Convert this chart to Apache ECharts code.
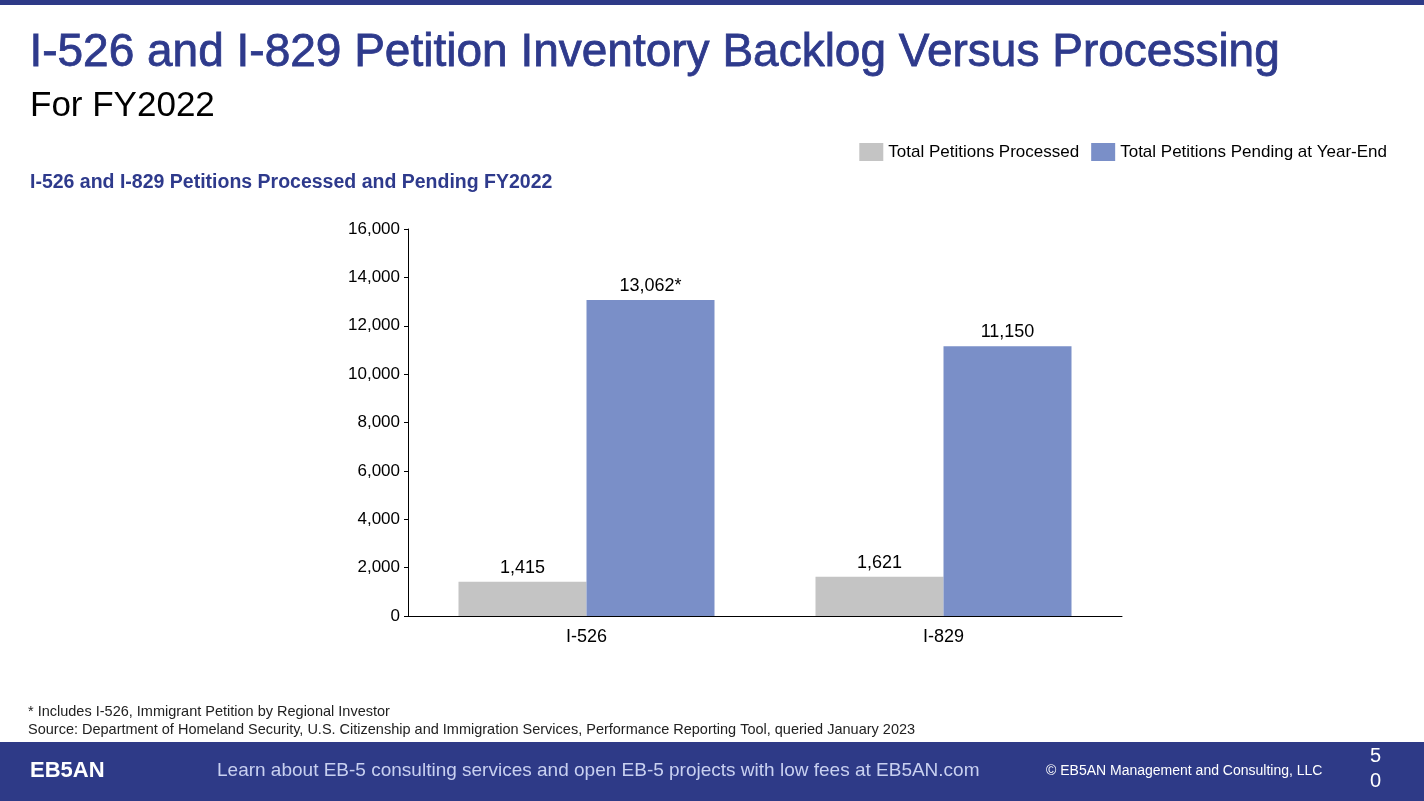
<!DOCTYPE html><html><head><meta charset="utf-8">
<script src="https://cdn.jsdelivr.net/npm/echarts@6/dist/echarts.min.js"></script>
<style>html,body{margin:0;padding:0;background:#fff}#c{width:1424px;height:801px}</style></head><body><div id="c"></div>
<script>
const categories=['I-526','I-829'];
const processed=[1415,1621];
const pending=[13062,11150];
const pendingLabels=['13,062*','11,150'];
const ch=echarts.init(document.getElementById('c'));
const F='Liberation Sans, Arial, sans-serif';
ch.setOption({
animation:false,
textStyle:{fontFamily:F},
grid:{left:408,top:229,width:714,height:387},
legend:{top:138,right:32,itemWidth:24,itemHeight:18,itemGap:12,icon:'rect',textStyle:{fontSize:17,color:'#000',fontFamily:F},data:['Total Petitions Processed','Total Petitions Pending at Year-End']},
xAxis:{type:'category',data:categories,axisTick:{show:false},axisLine:{lineStyle:{color:'#000'}},axisLabel:{fontSize:18,color:'#000',margin:12}},
yAxis:{type:'value',min:0,max:16000,interval:2000,splitLine:{show:false},axisLine:{show:true,lineStyle:{color:'#000'}},axisTick:{show:true,length:4,lineStyle:{color:'#000'}},axisLabel:{fontSize:17,color:'#000',formatter:v=>v.toLocaleString('en-US'),margin:8}},
series:[
{name:'Total Petitions Processed',type:'bar',data:processed,barWidth:128,barGap:'0%',itemStyle:{color:'#c4c4c4'},label:{show:true,position:'top',fontSize:18,color:'#000',formatter:p=>p.value.toLocaleString('en-US')}},
{name:'Total Petitions Pending at Year-End',type:'bar',data:pending,barWidth:128,itemStyle:{color:'#7a8fc8'},label:{show:true,position:'top',fontSize:18,color:'#000',formatter:p=>pendingLabels[p.dataIndex]}}
],
graphic:[
{type:'rect',shape:{x:0,y:0,width:1424,height:5},style:{fill:'#2e3a87'}},
{type:'text',left:29,top:30,style:{text:'I-526 and I-829 Petition Inventory Backlog Versus Processing',font:'46px '+F,fill:'#2e3a8c',stroke:'#2e3a8c',lineWidth:0.8}},
{type:'text',left:30,top:89,style:{text:'For FY2022',font:'35px '+F,fill:'#000'}},
{type:'text',left:30,top:173,style:{text:'I-526 and I-829 Petitions Processed and Pending FY2022',font:'bold 19.5px '+F,fill:'#2e3a8c'}},
{type:'text',left:28,top:704,style:{text:'* Includes I-526, Immigrant Petition by Regional Investor',font:'14.5px '+F,fill:'#222'}},
{type:'text',left:28,top:722,style:{text:'Source: Department of Homeland Security, U.S. Citizenship and Immigration Services, Performance Reporting Tool, queried January 2023',font:'14.5px '+F,fill:'#222'}},
{type:'rect',shape:{x:0,y:742,width:1424,height:59},style:{fill:'#2e3a87'}},
{type:'text',left:30,top:760,style:{text:'EB5AN',font:'bold 22px '+F,fill:'#fff'}},
{type:'text',left:217,top:761,style:{text:'Learn about EB-5 consulting services and open EB-5 projects with low fees at EB5AN.com',font:'19px '+F,fill:'#c8d0f0'}},
{type:'text',left:1046,top:764,style:{text:'© EB5AN Management and Consulting, LLC',font:'14px '+F,fill:'#fff'}},
{type:'text',left:1370,top:744,style:{text:'5\n0',font:'20px '+F,fill:'#fff',lineHeight:25}}
]
});
</script></body></html>
